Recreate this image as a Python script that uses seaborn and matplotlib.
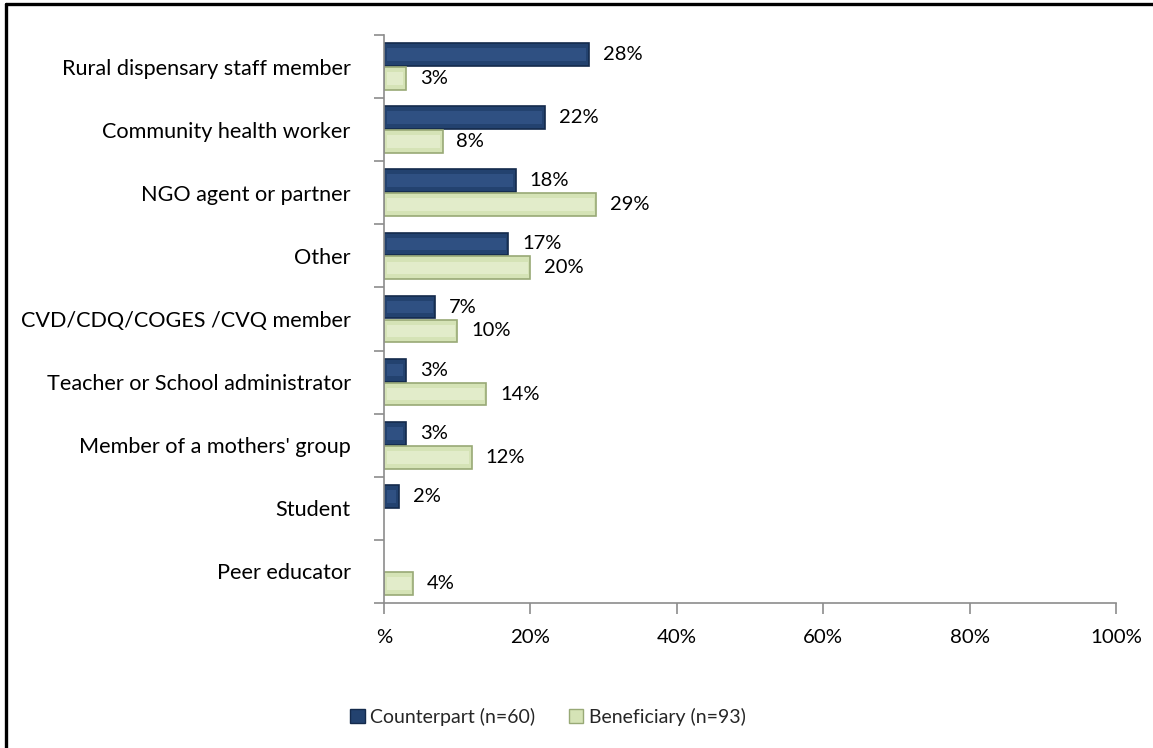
import matplotlib
matplotlib.use("Agg")
import matplotlib.pyplot as plt
import seaborn as sns
import pandas as pd
from matplotlib.patches import Patch, Rectangle
from matplotlib.ticker import FixedLocator, FuncFormatter

categories = [
    "Rural dispensary staff member",
    "Community health worker",
    "NGO agent or partner",
    "Other",
    "CVD/CDQ/COGES /CVQ member",
    "Teacher or School administrator",
    "Member of a mothers' group",
    "Student",
    "Peer educator",
]
counterpart = [28, 22, 18, 17, 7, 3, 3, 2, 0]
beneficiary = [3, 8, 29, 20, 10, 14, 12, 0, 4]
series_names = ["Counterpart (n=60)", "Beneficiary (n=93)"]
x_ticks = [0, 20, 40, 60, 80, 100]

rows = []
for cat, c, b in zip(categories, counterpart, beneficiary):
    rows.append({"role": cat, "group": series_names[0], "pct": c})
    rows.append({"role": cat, "group": series_names[1], "pct": b})
df = pd.DataFrame(rows)

sns.set_theme(style="white")
plt.rcParams["font.family"] = ["Lato", "DejaVu Sans"]

navy, navy_edge = "#23426F", "#142A4C"
green, green_edge = "#D5E3B6", "#98A976"

fig = plt.figure(figsize=(11.53, 7.48), dpi=100)
ax = fig.add_axes([384 / 1153, 1 - 603 / 748, (1116 - 384) / 1153, (603 - 35) / 748])

sns.barplot(data=df, y="role", x="pct", hue="group", order=categories,
            hue_order=series_names, palette=[navy, green], orient="h",
            width=0.76, gap=0.05, dodge=True, ax=ax, legend=False,
            linewidth=1.2)

for container, face, edge, vals in zip(ax.containers, [navy, green],
                                       [navy_edge, green_edge],
                                       [counterpart, beneficiary]):
    for bar, v in zip(container, vals):
        bar.set_edgecolor(edge)
        bar.set_facecolor(face)
        if v == 0:
            bar.set_visible(False)
            continue
        # soft bevel highlight inside each bar
        x0, y0 = bar.get_x(), bar.get_y()
        w, h = bar.get_width(), bar.get_height()
        light = "#3A5D92" if face == navy else "#EEF5DC"
        ax.add_patch(Rectangle((x0 + 0.35, y0 + h * 0.22), max(w - 0.7, 0), h * 0.56,
                               facecolor=light, edgecolor="none", alpha=0.55,
                               zorder=bar.get_zorder() + 0.1))
        ax.annotate(f"{v}%", xy=(v, y0 + h / 2), xytext=(10, 0),
                    textcoords="offset points", va="center", ha="left",
                    fontsize=14.5, color="black")

ax.set_xlim(0, 100)
ax.set_ylim(len(categories) - 0.5, -0.5)
ax.xaxis.set_major_locator(FixedLocator(x_ticks))
ax.xaxis.set_major_formatter(FuncFormatter(lambda v, p: "%" if v == 0 else f"{int(v)}%"))
ax.set_xlabel("")
ax.set_ylabel("")

ax.yaxis.set_minor_locator(FixedLocator([i - 0.5 for i in range(len(categories) + 1)]))
ax.tick_params(axis="y", which="major", length=0, pad=24, labelsize=15.6)
ax.tick_params(axis="y", which="minor", length=7, width=1.2, color="#8C8C8C", left=True)
ax.tick_params(axis="x", which="major", length=8, width=1.2, color="#8C8C8C",
               bottom=True, pad=11, labelsize=14.7)
for lbl in ax.get_yticklabels() + ax.get_xticklabels():
    lbl.set_color("black")

for side in ["top", "right"]:
    ax.spines[side].set_visible(False)
for side in ["left", "bottom"]:
    ax.spines[side].set_color("#8C8C8C")
    ax.spines[side].set_linewidth(1.2)
ax.grid(False)

handles = [Patch(facecolor=navy, edgecolor=navy_edge, label=series_names[0]),
           Patch(facecolor=green, edgecolor=green_edge, label=series_names[1])]
fig.legend(handles=handles, loc="center", bbox_to_anchor=(548 / 1153, 1 - 717 / 748),
           ncol=2, frameon=False, fontsize=14, handlelength=0.75, handleheight=0.75,
           handletextpad=0.3, columnspacing=1.7)

# outer frame of the chart area
fig.add_artist(plt.Line2D([6 / 1153, 6 / 1153], [0, 1 - 4 / 748], transform=fig.transFigure,
                          color="black", linewidth=2.4))
fig.add_artist(plt.Line2D([6 / 1153, 1], [1 - 4 / 748, 1 - 4 / 748], transform=fig.transFigure,
                          color="black", linewidth=2.4))

fig.savefig("out.png", dpi=100)
